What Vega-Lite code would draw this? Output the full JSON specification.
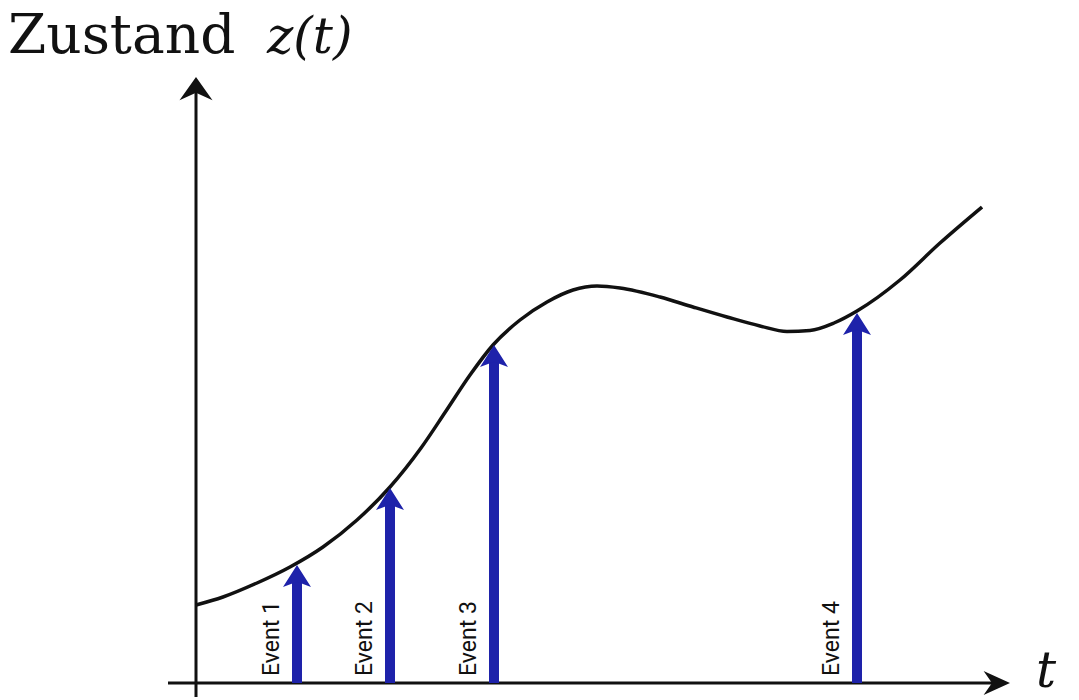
{
  "$schema": "https://vega.github.io/schema/vega-lite/v6.json",
  "width": 1079,
  "height": 700,
  "autosize": {"type": "fit", "contains": "padding"},
  "padding": 0,
  "background": "white",
  "config": {"view": {"stroke": null}},
  "datasets": {
    "curve": [
      {"t": 0.0, "z": 0.78},
      {"t": 0.27, "z": 0.86},
      {"t": 0.61, "z": 1.0},
      {"t": 0.94, "z": 1.16},
      {"t": 1.27, "z": 1.36},
      {"t": 1.61, "z": 1.63},
      {"t": 1.94, "z": 1.96},
      {"t": 2.25, "z": 2.35},
      {"t": 2.5, "z": 2.72},
      {"t": 2.74, "z": 3.08},
      {"t": 2.97, "z": 3.38},
      {"t": 3.24, "z": 3.63},
      {"t": 3.51, "z": 3.81},
      {"t": 3.77, "z": 3.93},
      {"t": 4.01, "z": 3.97},
      {"t": 4.24, "z": 3.95},
      {"t": 4.64, "z": 3.86},
      {"t": 4.97, "z": 3.76},
      {"t": 5.31, "z": 3.66},
      {"t": 5.64, "z": 3.57},
      {"t": 5.91, "z": 3.515},
      {"t": 6.14, "z": 3.525},
      {"t": 6.38, "z": 3.6},
      {"t": 6.61, "z": 3.72},
      {"t": 7.04, "z": 4.03},
      {"t": 7.44, "z": 4.4},
      {"t": 7.86, "z": 4.76}
    ],
    "events": [
      {"event": "Event 1", "t": 1.01, "z": 1.18, "base": 0},
      {"event": "Event 2", "t": 1.94, "z": 1.95, "base": 0},
      {"event": "Event 3", "t": 2.98, "z": 3.38, "base": 0},
      {"event": "Event 4", "t": 6.61, "z": 3.7, "base": 0}
    ],
    "axes": [
      {"axis": "t", "t": -0.28, "t2": 8.0, "z": 0, "z2": 0, "tipT": 8.14, "tipZ": 0},
      {"axis": "z", "t": 0, "t2": 0, "z": -0.14, "z2": 5.93, "tipT": 0, "tipZ": 6.06}
    ],
    "labels": [
      {"text": "Zustand", "style": "normal", "t": -1.88, "z": 6.3},
      {"text": "z(t)", "style": "italic", "t": 0.71, "z": 6.3},
      {"text": "t", "style": "italic", "t": 8.4, "z": -0.04}
    ]
  },
  "resolve": {"scale": {"x": "shared", "y": "shared"}},
  "layer": [
    {
      "data": {"name": "axes"},
      "mark": {"type": "rule", "color": "#111111", "strokeWidth": 3},
      "encoding": {
        "x": {"field": "t", "type": "quantitative", "scale": {"domain": [-1.96, 8.83], "nice": false, "zero": false}, "axis": null},
        "x2": {"field": "t2"},
        "y": {"field": "z", "type": "quantitative", "scale": {"domain": [-0.17, 6.83], "nice": false, "zero": false}, "axis": null},
        "y2": {"field": "z2"}
      }
    },
    {
      "data": {"name": "axes"},
      "transform": [{"filter": "datum.axis == 'z'"}],
      "mark": {"type": "point", "filled": true, "opacity": 1, "color": "#111111", "size": 900, "shape": "M0,0 L1.1,1.55 L0,1.05 L-1.1,1.55 Z"},
      "encoding": {
        "x": {"field": "tipT", "type": "quantitative", "axis": null},
        "y": {"field": "tipZ", "type": "quantitative", "axis": null}
      }
    },
    {
      "data": {"name": "axes"},
      "transform": [{"filter": "datum.axis == 't'"}],
      "mark": {"type": "point", "filled": true, "opacity": 1, "color": "#111111", "size": 576, "shape": "M0,0 L-2.2,1 L-1.5,0 L-2.2,-1 Z"},
      "encoding": {
        "x": {"field": "tipT", "type": "quantitative", "axis": null},
        "y": {"field": "tipZ", "type": "quantitative", "axis": null}
      }
    },
    {
      "data": {"name": "curve"},
      "mark": {"type": "line", "color": "#111111", "strokeWidth": 3.5, "interpolate": "monotone"},
      "encoding": {
        "x": {"field": "t", "type": "quantitative", "axis": null},
        "y": {"field": "z", "type": "quantitative", "axis": null}
      }
    },
    {
      "data": {"name": "events"},
      "mark": {"type": "rule", "color": "#1e22aa", "strokeWidth": 10, "y2Offset": 10},
      "encoding": {
        "x": {"field": "t", "type": "quantitative", "axis": null},
        "y": {"field": "base", "type": "quantitative", "axis": null},
        "y2": {"field": "z"}
      }
    },
    {
      "data": {"name": "events"},
      "mark": {"type": "point", "filled": true, "opacity": 1, "color": "#1e22aa", "size": 784, "shape": "M0,0 L1,1.57 L0,1.2 L-1,1.57 Z"},
      "encoding": {
        "x": {"field": "t", "type": "quantitative", "axis": null},
        "y": {"field": "z", "type": "quantitative", "axis": null}
      }
    },
    {
      "data": {"name": "events"},
      "mark": {"type": "text", "angle": 270, "align": "left", "baseline": "middle", "font": "Roboto", "fontSize": 23, "color": "#111111", "xOffset": -25, "yOffset": -7},
      "encoding": {
        "x": {"field": "t", "type": "quantitative", "axis": null},
        "y": {"field": "base", "type": "quantitative", "axis": null},
        "text": {"field": "event"}
      }
    },
    {
      "data": {"name": "labels"},
      "transform": [{"filter": "datum.style == 'normal'"}],
      "mark": {"type": "text", "align": "left", "baseline": "alphabetic", "font": "DejaVu Serif", "fontSize": 55, "color": "#111111"},
      "encoding": {
        "x": {"field": "t", "type": "quantitative", "axis": null},
        "y": {"field": "z", "type": "quantitative", "axis": null},
        "text": {"field": "text"}
      }
    },
    {
      "data": {"name": "labels"},
      "transform": [{"filter": "datum.style == 'italic'"}],
      "mark": {"type": "text", "align": "left", "baseline": "alphabetic", "font": "DejaVu Serif", "fontStyle": "italic", "fontSize": 50, "color": "#111111"},
      "encoding": {
        "x": {"field": "t", "type": "quantitative", "axis": null},
        "y": {"field": "z", "type": "quantitative", "axis": null},
        "text": {"field": "text"}
      }
    }
  ]
}
